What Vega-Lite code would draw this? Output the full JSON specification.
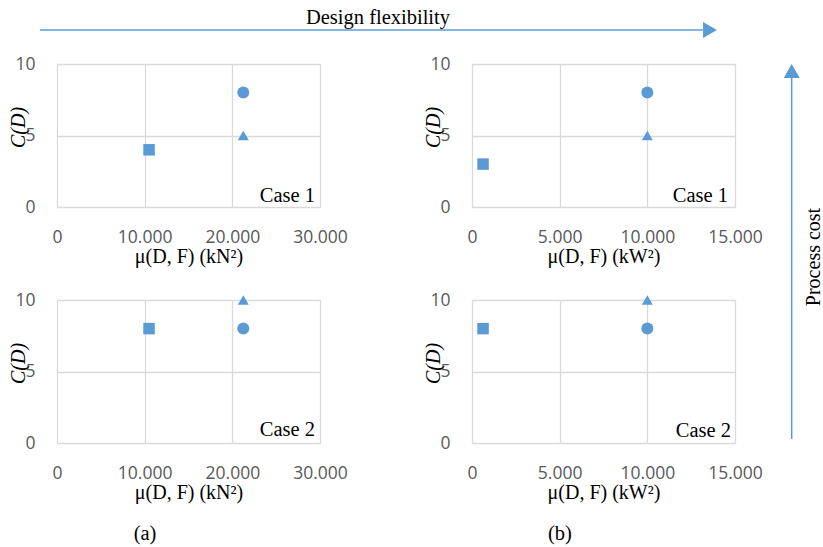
{
  "$schema": "https://vega.github.io/schema/vega-lite/v6.json",
  "background": "white",
  "padding": {"left": 8, "top": 0, "right": 0, "bottom": 0},
  "datasets": {
    "pts": [
      {"panel": "a1", "x": 10500, "y": 4, "shape": "square"},
      {"panel": "a1", "x": 21250, "y": 8, "shape": "circle"},
      {"panel": "a1", "x": 21250, "y": 5, "shape": "triangle"},
      {"panel": "b1", "x": 630, "y": 3, "shape": "square"},
      {"panel": "b1", "x": 10000, "y": 8, "shape": "circle"},
      {"panel": "b1", "x": 10000, "y": 5, "shape": "triangle"},
      {"panel": "a2", "x": 10500, "y": 8, "shape": "square"},
      {"panel": "a2", "x": 21250, "y": 8, "shape": "circle"},
      {"panel": "a2", "x": 21250, "y": 10, "shape": "triangle"},
      {"panel": "b2", "x": 630, "y": 8, "shape": "square"},
      {"panel": "b2", "x": 10000, "y": 8, "shape": "circle"},
      {"panel": "b2", "x": 10000, "y": 10, "shape": "triangle"}
    ],
    "cases": [
      {"panel": "a1", "label": "Case 1"},
      {"panel": "b1", "label": "Case 1"},
      {"panel": "a2", "label": "Case 2"},
      {"panel": "b2", "label": "Case 2"}
    ]
  },
  "spacing": 0,
  "hconcat": [
    {
      "spacing": 16,
      "vconcat": [
        {
          "width": 713,
          "height": 34,
          "data": {"values": [{"label": "Design flexibility"}]},
          "layer": [
            {
              "mark": {"type": "rule", "color": "#5b9bd5", "strokeWidth": 1.5},
              "encoding": {
                "x": {"datum": -0.0238, "type": "quantitative", "scale": {"domain": [0, 1]}, "axis": null},
                "x2": {"datum": 0.906},
                "y": {"datum": 0.1176, "type": "quantitative", "scale": {"domain": [0, 1]}, "axis": null}
              }
            },
            {
              "mark": {"type": "point", "shape": "triangle-right", "filled": true, "opacity": 1, "color": "#5b9bd5", "size": 256},
              "encoding": {
                "x": {"datum": 0.9158, "type": "quantitative"},
                "y": {"datum": 0.1176, "type": "quantitative"}
              }
            },
            {
              "mark": {"type": "text", "font": "Liberation Serif", "fontSize": 20.5, "baseline": "alphabetic", "align": "center", "color": "black"},
              "encoding": {
                "x": {"datum": 0.4502, "type": "quantitative"},
                "y": {"datum": 0.294, "type": "quantitative"},
                "text": {"field": "label"}
              }
            }
          ]
        },
        {
          "spacing": 25,
          "vconcat": [
            {
              "spacing": 152,
              "bounds": "flush",
              "hconcat": [
                {
                  "width": 263, "height": 143,
                  "layer": [
                    {
                      "data": {"name": "pts"},
                      "transform": [{"filter": "datum.panel === 'a1'"}],
                      "mark": {"type": "point", "filled": true, "opacity": 1, "color": "#5b9bd5"},
                      "encoding": {
                        "x": {"field": "x", "type": "quantitative", "scale": {"domain": [0, 30000], "nice": false}, "axis": {"values": [0, 10000, 20000, 30000], "title": "μ(D, F) (kN²)", "labelExpr": "datum.value === 0 ? '0' : format(datum.value / 1000, 'd') + '.000'"}},
                        "y": {"field": "y", "type": "quantitative", "scale": {"domain": [0, 10], "nice": false}, "axis": {"values": [0, 5, 10], "title": "C(D)"}},
                        "shape": {"field": "shape", "type": "nominal", "scale": {"domain": ["circle", "square", "triangle"], "range": ["circle", "square", "triangle-up"]}, "legend": null},
                        "size": {"field": "shape", "type": "nominal", "scale": {"domain": ["circle", "square", "triangle"], "range": [144, 121, 165]}, "legend": null}
                      }
                    },
                    {
                      "data": {"name": "cases"},
                      "transform": [{"filter": "datum.panel === 'a1'"}],
                      "mark": {"type": "text", "align": "right", "baseline": "alphabetic", "dx": -5, "dy": -5, "font": "Liberation Serif", "fontSize": 20.5, "color": "black"},
                      "encoding": {"x": {"datum": 30000, "type": "quantitative"}, "y": {"datum": 0, "type": "quantitative"}, "text": {"field": "label"}}
                    }
                  ]
                },
                {
                  "width": 263, "height": 143,
                  "layer": [
                    {
                      "data": {"name": "pts"},
                      "transform": [{"filter": "datum.panel === 'b1'"}],
                      "mark": {"type": "point", "filled": true, "opacity": 1, "color": "#5b9bd5"},
                      "encoding": {
                        "x": {"field": "x", "type": "quantitative", "scale": {"domain": [0, 15000], "nice": false}, "axis": {"values": [0, 5000, 10000, 15000], "title": "μ(D, F) (kW²)", "labelExpr": "datum.value === 0 ? '0' : format(datum.value / 1000, 'd') + '.000'"}},
                        "y": {"field": "y", "type": "quantitative", "scale": {"domain": [0, 10], "nice": false}, "axis": {"values": [0, 5, 10], "title": "C(D)"}},
                        "shape": {"field": "shape", "type": "nominal", "scale": {"domain": ["circle", "square", "triangle"], "range": ["circle", "square", "triangle-up"]}, "legend": null},
                        "size": {"field": "shape", "type": "nominal", "scale": {"domain": ["circle", "square", "triangle"], "range": [144, 121, 165]}, "legend": null}
                      }
                    },
                    {
                      "data": {"name": "cases"},
                      "transform": [{"filter": "datum.panel === 'b1'"}],
                      "mark": {"type": "text", "align": "right", "baseline": "alphabetic", "dx": -7, "dy": -5, "font": "Liberation Serif", "fontSize": 20.5, "color": "black"},
                      "encoding": {"x": {"datum": 15000, "type": "quantitative"}, "y": {"datum": 0, "type": "quantitative"}, "text": {"field": "label"}}
                    }
                  ]
                }
              ]
            },
            {
              "spacing": 152,
              "bounds": "flush",
              "hconcat": [
                {
                  "width": 263, "height": 143,
                  "title": {"text": "(a)", "orient": "bottom", "frame": "group", "dx": -43.5, "offset": 22, "font": "Liberation Serif", "fontSize": 20.5, "fontWeight": "normal", "color": "black"},
                  "layer": [
                    {
                      "data": {"name": "pts"},
                      "transform": [{"filter": "datum.panel === 'a2'"}],
                      "mark": {"type": "point", "filled": true, "opacity": 1, "color": "#5b9bd5"},
                      "encoding": {
                        "x": {"field": "x", "type": "quantitative", "scale": {"domain": [0, 30000], "nice": false}, "axis": {"values": [0, 10000, 20000, 30000], "title": "μ(D, F) (kN²)", "labelExpr": "datum.value === 0 ? '0' : format(datum.value / 1000, 'd') + '.000'"}},
                        "y": {"field": "y", "type": "quantitative", "scale": {"domain": [0, 10], "nice": false}, "axis": {"values": [0, 5, 10], "title": "C(D)"}},
                        "shape": {"field": "shape", "type": "nominal", "scale": {"domain": ["circle", "square", "triangle"], "range": ["circle", "square", "triangle-up"]}, "legend": null},
                        "size": {"field": "shape", "type": "nominal", "scale": {"domain": ["circle", "square", "triangle"], "range": [144, 121, 165]}, "legend": null}
                      }
                    },
                    {
                      "data": {"name": "cases"},
                      "transform": [{"filter": "datum.panel === 'a2'"}],
                      "mark": {"type": "text", "align": "right", "baseline": "alphabetic", "dx": -5, "dy": -7, "font": "Liberation Serif", "fontSize": 20.5, "color": "black"},
                      "encoding": {"x": {"datum": 30000, "type": "quantitative"}, "y": {"datum": 0, "type": "quantitative"}, "text": {"field": "label"}}
                    }
                  ]
                },
                {
                  "width": 263, "height": 143,
                  "title": {"text": "(b)", "orient": "bottom", "frame": "group", "dx": -43.5, "offset": 22, "font": "Liberation Serif", "fontSize": 20.5, "fontWeight": "normal", "color": "black"},
                  "layer": [
                    {
                      "data": {"name": "pts"},
                      "transform": [{"filter": "datum.panel === 'b2'"}],
                      "mark": {"type": "point", "filled": true, "opacity": 1, "color": "#5b9bd5"},
                      "encoding": {
                        "x": {"field": "x", "type": "quantitative", "scale": {"domain": [0, 15000], "nice": false}, "axis": {"values": [0, 5000, 10000, 15000], "title": "μ(D, F) (kW²)", "labelExpr": "datum.value === 0 ? '0' : format(datum.value / 1000, 'd') + '.000'"}},
                        "y": {"field": "y", "type": "quantitative", "scale": {"domain": [0, 10], "nice": false}, "axis": {"values": [0, 5, 10], "title": "C(D)"}},
                        "shape": {"field": "shape", "type": "nominal", "scale": {"domain": ["circle", "square", "triangle"], "range": ["circle", "square", "triangle-up"]}, "legend": null},
                        "size": {"field": "shape", "type": "nominal", "scale": {"domain": ["circle", "square", "triangle"], "range": [144, 121, 165]}, "legend": null}
                      }
                    },
                    {
                      "data": {"name": "cases"},
                      "transform": [{"filter": "datum.panel === 'b2'"}],
                      "mark": {"type": "text", "align": "right", "baseline": "alphabetic", "dx": -4, "dy": -6, "font": "Liberation Serif", "fontSize": 20.5, "color": "black"},
                      "encoding": {"x": {"datum": 15000, "type": "quantitative"}, "y": {"datum": 0, "type": "quantitative"}, "text": {"field": "label"}}
                    }
                  ]
                }
              ]
            }
          ]
        }
      ]
    },
    {
      "width": 53,
      "height": 440,
      "data": {"values": [{"label": "Process cost"}]},
      "layer": [
        {
          "mark": {"type": "rule", "color": "#5b9bd5", "strokeWidth": 1.5},
          "encoding": {
            "x": {"datum": 0.409, "type": "quantitative", "scale": {"domain": [0, 1]}, "axis": null},
            "y": {"datum": 0.0023, "type": "quantitative", "scale": {"domain": [0, 1]}, "axis": null},
            "y2": {"datum": 0.8227}
          }
        },
        {
          "mark": {"type": "point", "shape": "triangle-up", "filled": true, "opacity": 1, "color": "#5b9bd5", "size": 256},
          "encoding": {
            "x": {"datum": 0.409, "type": "quantitative"},
            "y": {"datum": 0.8386, "type": "quantitative"}
          }
        },
        {
          "mark": {"type": "text", "font": "Liberation Serif", "fontSize": 20, "angle": 270, "baseline": "middle", "align": "center", "color": "black"},
          "encoding": {
            "x": {"datum": 0.83, "type": "quantitative"},
            "y": {"datum": 0.4159, "type": "quantitative"},
            "text": {"field": "label"}
          }
        }
      ]
    }
  ],
  "config": {
    "view": {"stroke": null},
    "axis": {
      "grid": true,
      "gridColor": "#d9d9d9",
      "gridWidth": 1.3,
      "domain": false,
      "ticks": false,
      "tickSize": 0,
      "labelFont": "Open Sans",
      "labelFontSize": 17.5,
      "labelColor": "#595959",
      "labelFlush": false,
      "labelOverlap": false,
      "titleFont": "Liberation Serif",
      "titleFontSize": 20,
      "titleColor": "black",
      "titleFontWeight": "normal"
    },
    "axisX": {"labelPadding": 30, "labelBaseline": "middle", "titleY": 49, "titleBaseline": "middle"},
    "axisY": {"labelPadding": 22, "labelBaseline": "middle", "titleX": -39, "titleY": 63, "titleAngle": 270, "titleBaseline": "middle", "titleAlign": "center", "titleFontStyle": "italic"}
  }
}
